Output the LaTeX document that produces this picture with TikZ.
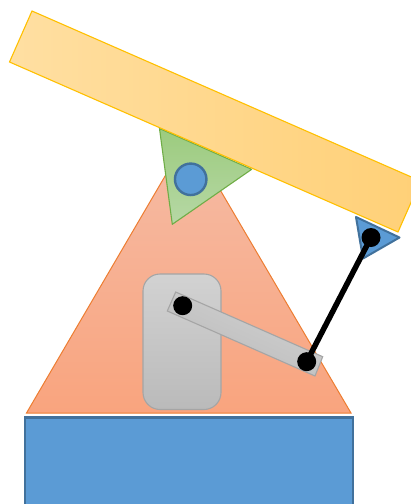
\documentclass[tikz,border=0pt]{standalone}
\usepackage{xcolor}
\usetikzlibrary{calc}
\definecolor{beamline}{HTML}{FFC000}
\definecolor{baseblue}{HTML}{5B9BD5}
\definecolor{baseline}{HTML}{41719C}
\definecolor{wedgeline}{HTML}{70AD47}
\definecolor{towerline}{HTML}{ED7D31}
\tikzset{plate/.style={draw=baseline,line width=2.7pt,fill=baseblue},
 beam/.style={draw=beamline,line width=1.1pt,left color=beamL,right color=beamR},
 wedge/.style={draw=wedgeline,line width=1.1pt,top color=wedgeT,bottom color=wedgeB,line join=round},
 tower/.style={draw=towerline,line width=1pt,top color=towerT,bottom color=towerB},
 grayblock/.style={draw=grayline,line width=1.1pt,top color=grayT,bottom color=grayB},
 pivot/.style={circle,fill=black,inner sep=0pt,minimum size=19pt},
 hinge/.style={circle,draw=baseline,line width=2.4pt,fill=baseblue,inner sep=0pt,minimum size=31.5pt},
 rod/.style={line width=5.5pt,black}}
\definecolor{beamL}{HTML}{FFDFA2}
\definecolor{beamR}{HTML}{FFD077}
\definecolor{wedgeT}{HTML}{9CCB7E}
\definecolor{wedgeB}{HTML}{B6D8A5}
\definecolor{towerT}{HTML}{F5BCA6}
\definecolor{towerB}{HTML}{F9A47E}
\definecolor{grayT}{HTML}{D2D2D2}
\definecolor{grayB}{HTML}{BABABA}
\definecolor{grayline}{HTML}{A5A5A5}
\begin{document}
\begin{tikzpicture}[x=1pt,y=-1pt]
\useasboundingbox (0,0) rectangle (411,504);
\clip (0,0) rectangle (411,504);
\draw[tower] (26.5,413)--(188.5,136)--(351,413)--cycle;
\draw[plate] (25,417.5) rectangle (353,520);
\draw[grayblock,rounded corners=17pt] (143,274) rectangle (221,409.5);
\draw[grayblock,shading angle=-24] (175.7,292)--(322.7,356.7)--(315,376)--(167.3,311)--cycle;
\draw[plate,line width=2pt,line join=round] (356,217)--(399.5,237.5)--(363,258.5)--cycle;
\draw[wedge] (159.5,128.5)--(251.7,169.3)--(172.3,224.3)--cycle;
\node[hinge] (hub) at (190.7,179.3) {};
\draw[beam] (32,11)--(420.5,181)--(398,232)--(9.5,62)--cycle;
\node[pivot] (pa) at (182.7,305.7) {};
\node[pivot] (pb) at (306.7,361.7) {};
\node[pivot] (pc) at (371,237.5) {};
\draw[rod] (pb.center)--(pc.center);
\end{tikzpicture}
\end{document}
